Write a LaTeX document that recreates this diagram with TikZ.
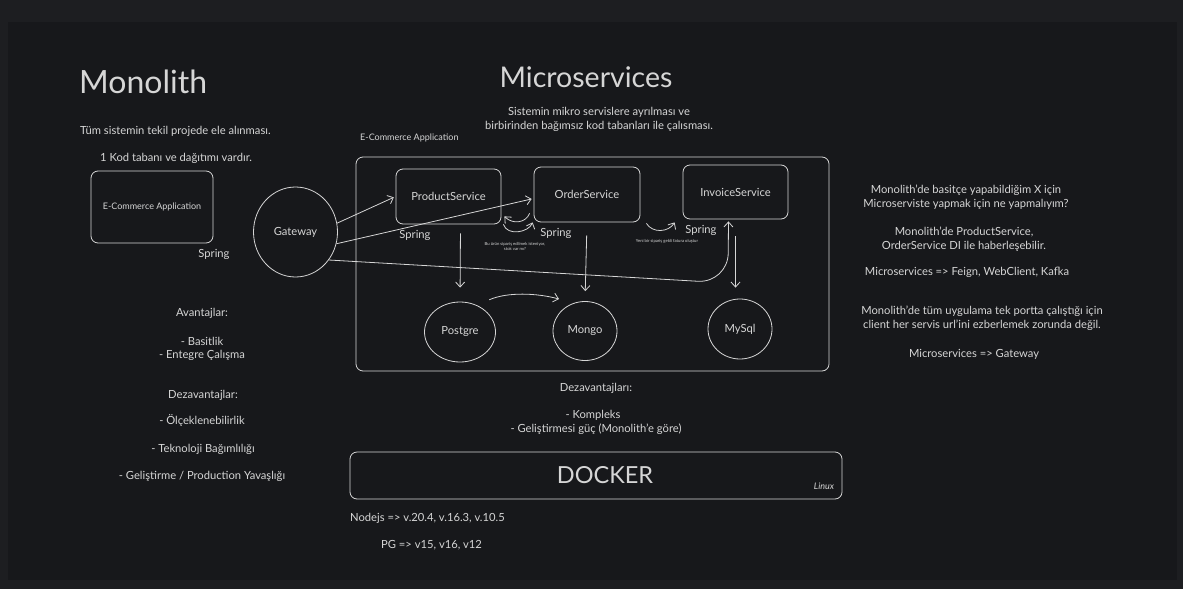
\documentclass[tikz,border=0pt]{standalone}
\usepackage{fontspec}
\setmainfont{Lato}
\usepackage{tikz}
\usetikzlibrary{arrows.meta}
\usetikzlibrary{shapes.geometric}
\definecolor{bgout}{HTML}{1D1E21}
\definecolor{bgin}{HTML}{17181B}
\definecolor{ink}{HTML}{D6D6D6}

\begin{document}
\begin{tikzpicture}[x=1pt,y=-1pt,
  every node/.style={text=ink, font=\fontsize{11.2}{14}\selectfont},
  box/.style={draw=ink, rounded corners=7pt, line width=0.8pt},
  db/.style={draw=ink, ellipse, line width=0.8pt, inner sep=0pt},
  link/.style={draw=ink, line width=0.8pt, -{Straight Barb[length=5pt,width=9pt]}},
  lefttxt/.style={anchor=west, inner xsep=0pt},
  tiny/.style={font=\fontsize{4.2}{5}\selectfont, align=center}]
\useasboundingbox (0,0) rectangle (1183,589);
\fill[bgout] (0,0) rectangle (1183,589);
\fill[bgin] (8,22) rectangle (1177,580);
% monolith side
\node[lefttxt, font=\fontsize{32}{36}\selectfont] (monotitle) at (79,82) {Monolith};
\node[lefttxt] (monodesc) at (80,131) {Tüm sistemin tekil projede ele alınması.};
\node[lefttxt] (monokod) at (100,158) {1 Kod tabanı ve dağıtımı vardır.};
\node[box, minimum width=122pt, minimum height=72pt,
      font=\fontsize{9}{10}\selectfont] (monoapp) at (152,207) {E-Commerce Application};
\node (monospring) at (214,254) {Spring};
\node (pros) at (202,313) {Avantajlar:};
\node (pro1) at (202,341) {- Basitlik};
\node (pro2) at (202,355) {- Entegre Çalışma};
\node (cons) at (203,395) {Dezavantajlar:};
\node (con1) at (202,421) {- Ölçeklenebilirlik};
\node (con2) at (203,449) {- Teknoloji Bağımlılığı};
\node (con3) at (202,476) {- Geliştirme / Production Yavaşlığı};
% microservices side
\node[font=\fontsize{28.5}{32}\selectfont] (msvtitle) at (586,77) {Microservices};
\node[align=center] (msvdesc) at (599,119)
     {Sistemin mikro servislere ayrılması ve\\birbirinden bağımsız kod tabanları ile çalısması.};
\node[lefttxt, font=\fontsize{9}{10}\selectfont] (ecomlabel) at (360,138) {E-Commerce Application};
\node[box, minimum width=473pt, minimum height=214pt] (ecom) at (592.5,264) {};
\node[db, minimum width=84pt, minimum height=90pt] (gw) at (295.5,232) {Gateway};
\node[box, minimum width=105pt, minimum height=55pt] (ps) at (448.5,196.5) {ProductService};
\node[box, minimum width=106pt, minimum height=55pt] (os) at (587,194.5) {OrderService};
\node[box, minimum width=105pt, minimum height=54pt] (is) at (735.5,192) {InvoiceService};
\node (psspring) at (415,235) {Spring};
\node (osspring) at (556,233) {Spring};
\node (isspring) at (701,230) {Spring};
\node[db, minimum width=71pt, minimum height=60pt] (pg) at (460,332) {Postgre};
\node[db, minimum width=64pt, minimum height=59pt] (mg) at (585,331) {Mongo};
\node[db, minimum width=64pt, minimum height=60pt] (ms) at (740,329) {MySql};
\node[tiny] (pstalk) at (515,246) {Bu ürün sipariş edilmek isteniyor,\\stok var mı?};
\node[tiny] (istalk) at (667,241) {Yeni bir sipariş geldi fatura oluştur};
\coordinate (gwbend) at (728,283);
\draw[link, shorten >=2pt] (gw.12) -- (ps.west);
\draw[link, shorten >=2pt] (gw.-16) -- ([yshift=-4pt]os.west);
\draw[link, rounded corners=30pt, shorten >=2pt] (gw.-40) -- (gwbend) -- ([xshift=-7pt]is.south);
\draw[link, shorten <=9pt, shorten >=14pt] ([xshift=12pt]ps.south) -- (pg.north);
\draw[link, shorten <=13pt, shorten >=10pt] (os.south) -- (mg.north);
\draw[link, shorten <=17pt, shorten >=11pt] (is.south) -- (is.south |- ms.north);
\draw[link] ([shift={(6pt,9pt)}]pg.45) .. controls +(18,-8) and +(-22,-6) .. ([shift={(-4pt,10pt)}]mg.135);
\draw[link] ([shift={(-4pt,9pt)}]os.south west) .. controls +(-4,10) and +(8,8) .. ([shift={(3pt,8pt)}]ps.south east);
\draw[link] ([xshift=2pt]ps.south east) .. controls +(4,12) and +(-4,10) .. ([xshift=-1pt]os.south west);
\draw[link] ([xshift=6pt,yshift=-1pt]os.south east) .. controls +(6,10) and +(-6,10) .. ([xshift=-8pt,yshift=-3pt]is.south west);
\node[align=center] (q1) at (966,197)
     {Monolith'de basitçe yapabildiğim X için\\Microserviste yapmak için ne yapmalıyım?};
\node[align=center] (q2) at (964,239)
     {Monolith'de ProductService,\\OrderService DI ile haberleşebilir.};
\node (q3) at (967,272) {Microservices => Feign, WebClient, Kafka};
\node[align=center] (q4) at (982,318)
     {Monolith'de tüm uygulama tek portta çalıştığı için\\client her servis url'ini ezberlemek zorunda değil.};
\node (q5) at (974,354) {Microservices => Gateway};
\node (mcons) at (596,388) {Dezavantajları:};
\node (mcon1) at (593,415) {- Kompleks};
\node (mcon2) at (596,429) {- Geliştirmesi güç (Monolith'e göre)};
% docker
\node[box, minimum width=492pt, minimum height=47pt] (dockerbox) at (596,475.5) {};
\node[font=\fontsize{23.5}{26}\selectfont] (docker) at (605,475) {DOCKER};
\node[font=\itshape\fontsize{9}{10}\selectfont] (linux) at (824,486) {Linux};
\node[lefttxt] (nodever) at (350,518) {Nodejs => v.20.4, v.16.3, v.10.5};
\node[lefttxt] (pgver) at (381,545) {PG => v15, v16, v12};
\end{tikzpicture}
\end{document}
